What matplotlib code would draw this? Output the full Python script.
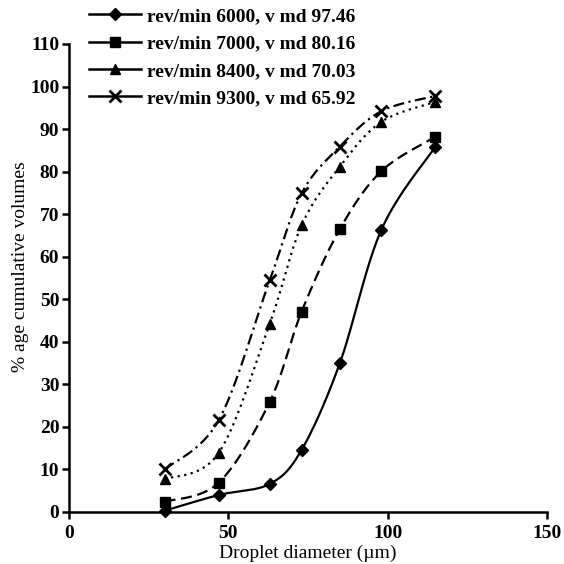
import numpy as np
import matplotlib
matplotlib.use("Agg")
import matplotlib.pyplot as plt
from matplotlib.lines import Line2D

# Data
diameter = [30, 47, 63, 73, 85, 98, 115]
labels = ["rev/min 6000, v md 97.46", "rev/min 7000, v md 80.16",
          "rev/min 8400, v md 70.03", "rev/min 9300, v md 65.92"]
rpm6000 = [0.3, 4.0, 6.6, 14.6, 35.0, 66.3, 85.9]
rpm7000 = [2.4, 6.9, 25.9, 47.1, 66.5, 80.1, 88.2]
rpm8400 = [7.7, 13.9, 44.3, 67.4, 81.2, 91.7, 96.4]
rpm9300 = [10.0, 21.6, 54.5, 74.9, 85.9, 94.2, 97.8]
series = [rpm6000, rpm7000, rpm8400, rpm9300]
markers = ["D", "s", "^", "x"]
msizes = [6.5, 6.5, 7, 8]
styles = ["-", (0, (5, 2.5)), (0, (1, 2)), (0, (5, 2, 1, 2))]

plt.rcParams['font.family'] = ['Liberation Serif', 'DejaVu Serif']


def smooth(x, y, n=30):
    x = np.asarray(x, float)
    y = np.asarray(y, float)
    P = np.column_stack([x, y])
    P = np.vstack([P[0], P, P[-1]])
    out = []
    t = np.linspace(0, 1, n)
    for i in range(1, len(P) - 2):
        p0, p1, p2, p3 = P[i - 1], P[i], P[i + 1], P[i + 2]
        b0 = p1
        b1 = p1 + (p2 - p0) / 6
        b2 = p2 - (p3 - p1) / 6
        b3 = p2
        seg = (((1 - t) ** 3)[:, None] * b0 + (3 * (1 - t) ** 2 * t)[:, None] * b1
               + (3 * (1 - t) * t ** 2)[:, None] * b2 + (t ** 3)[:, None] * b3)
        out.append(seg if i == 1 else seg[1:])
    S = np.vstack(out)
    return S[:, 0], S[:, 1]


fig = plt.figure(figsize=(5.64, 5.64), dpi=100)
ax = fig.add_axes([69 / 564, 52 / 564, 478 / 564, 468 / 564])

for ys, m, ms, ls in zip(series, markers, msizes, styles):
    sx, sy = smooth(diameter, ys)
    ax.plot(sx, sy, color='black', lw=1.6, linestyle=ls, clip_on=False)
    ax.plot(diameter, ys, linestyle='none', marker=m, ms=ms, color='black',
            mew=2 if m == 'x' else 1, clip_on=False, zorder=3)

ax.set_xlim(0, 150)
ax.set_ylim(0, 110)
ax.set_xticks([0, 50, 100, 150])
ax.set_yticks(range(0, 111, 10))
for s in ['top', 'right']:
    ax.spines[s].set_visible(False)
for s in ['left', 'bottom']:
    ax.spines[s].set_linewidth(1.8)
ax.tick_params(axis='both', direction='out', length=5, width=1.8,
               labelsize=14, pad=2)
ax.tick_params(axis='x', pad=4)
for lab in ax.get_xticklabels() + ax.get_yticklabels():
    lab.set_fontweight('bold')
ax.set_xlabel("Droplet diameter (\u00b5m)", fontsize=14, labelpad=2)
ax.set_ylabel("% age cumulative volumes", fontsize=14)
ax.yaxis.set_label_coords(-0.084, 0.5235)

handles = [Line2D([], [], color='black', lw=1.8, marker=m, ms=ms,
                  mew=2 if m == 'x' else 1) for m, ms in zip(markers, msizes)]
leg = fig.legend(handles, labels, loc='upper left',
                 bbox_to_anchor=(75 / 564, 1 + 6 / 564), frameon=False,
                 prop={'size': 14, 'weight': 'bold'}, handlelength=2.7,
                 handletextpad=0.3, labelspacing=0.5, borderpad=0.2)

fig.savefig("out.png", dpi=100)
